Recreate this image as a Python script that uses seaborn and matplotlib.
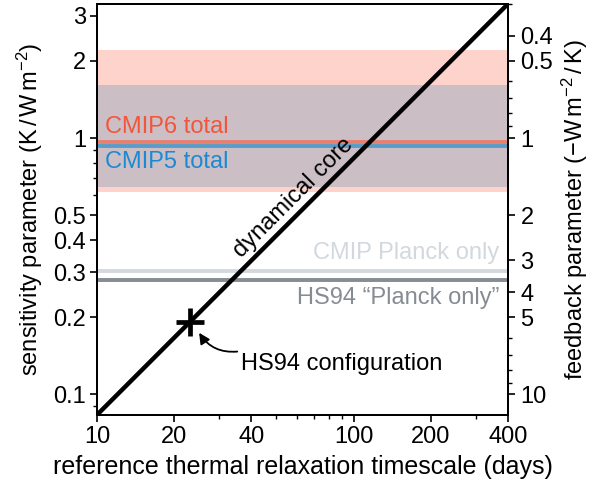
import numpy as np
import pandas as pd
import matplotlib
matplotlib.use("Agg")
import matplotlib.pyplot as plt
from matplotlib.ticker import FixedLocator, FixedFormatter, NullFormatter, LogLocator
import seaborn as sns

# dynamical-core relation: sensitivity vs reference relaxation timescale
timescale_days = [10, 400]
sensitivity = [1 / 12, 10 / 3]

# HS94 configuration point
hs94_timescale = 23
hs94_sensitivity = 23 / 120

# model ensemble ranges and means (sensitivity, K / W m^-2)
cmip6_range = [0.616, 2.20]
cmip5_range = [0.645, 1.61]
cmip6_total = 0.967
cmip5_total = 0.934
cmip_planck = 0.304
hs94_planck = 0.280

left_ticks = [0.1, 0.2, 0.3, 0.4, 0.5, 1, 2, 3]
left_labels = ["0.1", "0.2", "0.3", "0.4", "0.5", "1", "2", "3"]
right_ticks = [0.4, 0.5, 1, 2, 3, 4, 5, 10]
right_labels = ["0.4", "0.5", "1", "2", "3", "4", "5", "10"]
x_ticks = [10, 20, 40, 100, 200, 400]
x_labels = ["10", "20", "40", "100", "200", "400"]

sns.set_style("ticks")
plt.rcParams["font.family"] = ["Liberation Sans", "DejaVu Sans"]
plt.rcParams["mathtext.fontset"] = "custom"
plt.rcParams["mathtext.rm"] = "Liberation Sans"
plt.rcParams["mathtext.it"] = "Liberation Sans"
plt.rcParams["axes.linewidth"] = 1.4
plt.rcParams["text.color"] = "black"
plt.rcParams["axes.labelcolor"] = "black"
plt.rcParams["axes.edgecolor"] = "black"
for ax_ in ("x", "y"):
    plt.rcParams[f"{ax_}tick.major.width"] = 1.2
    plt.rcParams[f"{ax_}tick.minor.width"] = 1.0
    plt.rcParams[f"{ax_}tick.major.size"] = 5
    plt.rcParams[f"{ax_}tick.minor.size"] = 3
    plt.rcParams[f"{ax_}tick.color"] = "black"
    plt.rcParams[f"{ax_}tick.labelcolor"] = "black"

FS = 17
fig = plt.figure(figsize=(5.92, 4.88), dpi=100)
ax = fig.add_axes([0.164, 0.150, 0.694, 0.842])

ax.set_xscale("log")
ax.set_yscale("log")

ax.axhspan(*cmip6_range, color="#fdd3cb", lw=0, zorder=1)
ax.axhspan(*cmip5_range, color="#cbbec5", lw=0, zorder=1.1)
ax.axhline(cmip6_total, color="#e8806f", lw=2.8, zorder=2)
ax.axhline(cmip5_total, color="#5a9cc8", lw=2.8, zorder=2)
ax.axhline(cmip_planck, color="#d3d8df", lw=2.8, zorder=2)
ax.axhline(hs94_planck, color="#868c93", lw=2.8, zorder=2)

df = pd.DataFrame({"timescale": timescale_days, "sensitivity": sensitivity})
sns.lineplot(data=df, x="timescale", y="sensitivity", ax=ax, color="black",
             lw=3.2, zorder=3)
ax.plot([hs94_timescale], [hs94_sensitivity], marker="+", color="black",
        ms=20, mew=3.4, zorder=4, clip_on=False)

ax.set_xlim(10, 400)
ax.set_ylim(1 / 12, 10 / 3)

ax.text(10.75, 1.10, "CMIP6 total", color="#f2553a", fontsize=FS,
        va="center", ha="left", zorder=5)
ax.text(10.75, 0.807, "CMIP5 total", color="#1b8ad3", fontsize=FS,
        va="center", ha="left", zorder=5)
ax.text(370, 0.357, "CMIP Planck only", color="#d3d8df", fontsize=FS,
        va="center", ha="right", zorder=5)
ax.text(370, 0.238, "HS94 \u201cPlanck only\u201d", color="#868c93", fontsize=FS,
        va="center", ha="right", zorder=5)

# label along the diagonal, nudged to its upper-left side
ax.annotate("dynamical core", xy=(64, 64 / 120), xytext=(-7.5, 7.5),
            textcoords="offset points", fontsize=FS, rotation=45,
            rotation_mode="anchor", ha="center", va="center", zorder=5)

ax.text(36.3, 0.131, "HS94 configuration", fontsize=FS, ha="left",
        va="center", zorder=5)
ax.annotate("", xy=(25.0, 0.174), xytext=(35.2, 0.147),
            arrowprops=dict(arrowstyle="-|>", color="black", lw=1.3,
                            connectionstyle="arc3,rad=-0.3",
                            shrinkA=0, shrinkB=0, mutation_scale=16),
            zorder=5)

ax.xaxis.set_major_locator(FixedLocator(x_ticks))
ax.xaxis.set_major_formatter(FixedFormatter(x_labels))
ax.xaxis.set_minor_locator(LogLocator(base=10, subs=np.arange(2, 10)))
ax.xaxis.set_minor_formatter(NullFormatter())
ax.yaxis.set_major_locator(FixedLocator(left_ticks))
ax.yaxis.set_major_formatter(FixedFormatter(left_labels))
ax.yaxis.set_minor_locator(LogLocator(base=10, subs=np.arange(2, 10)))
ax.yaxis.set_minor_formatter(NullFormatter())
ax.tick_params(labelsize=FS, pad=3, colors="black")
ax.set_xlabel("reference thermal relaxation timescale (days)", fontsize=18, labelpad=5)
ax.set_ylabel("sensitivity parameter (K$\\,$/$\\,$W$\\,$m$^{-2}$)", fontsize=FS, labelpad=6)

ax2 = ax.twinx()
ax2.set_yscale("log")
ax2.set_ylim(12, 0.3)
ax2.yaxis.set_major_locator(FixedLocator(right_ticks))
ax2.yaxis.set_major_formatter(FixedFormatter(right_labels))
ax2.yaxis.set_minor_locator(LogLocator(base=10, subs=np.arange(2, 10)))
ax2.yaxis.set_minor_formatter(NullFormatter())
ax2.tick_params(labelsize=FS, pad=4, colors="black")
ax2.set_ylabel("feedback parameter (\u2212W$\\,$m$^{-2}$$\\,$/$\\,$K)", fontsize=FS, labelpad=5)
for s in ax2.spines.values():
    s.set_linewidth(1.4)

fig.savefig("out.png", dpi=100)
